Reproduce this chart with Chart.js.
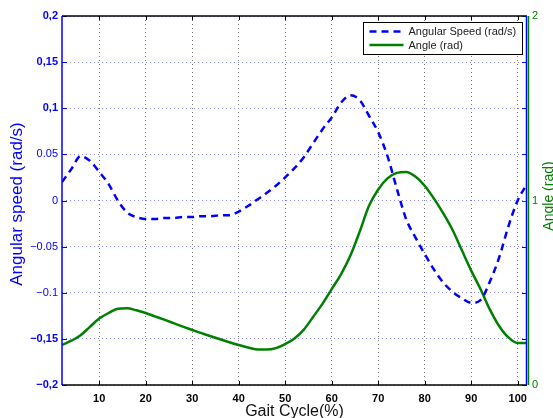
<!DOCTYPE html>
<html>
<head>
<meta charset="utf-8">
<script src="https://cdn.jsdelivr.net/npm/chart.js@4.4.0/dist/chart.umd.min.js"></script>
<style>
  html, body { margin: 0; padding: 0; background: #fff; }
</style>
</head>
<body>
<canvas id="gait" width="553" height="418"></canvas>
<script>
const gaitPct = [2, 4, 6, 8, 10, 12, 14, 16, 18, 20, 22, 24, 26, 28, 30, 32, 34, 36, 38, 40,
  42, 44, 46, 48, 50, 52, 54, 56, 58, 60, 62, 64, 66, 68, 70, 72, 74, 76, 78, 80,
  82, 84, 86, 88, 90, 92, 94, 96, 98, 100, 102];

const angularSpeed = [0.020, 0.034, 0.048, 0.043, 0.031, 0.018, 0.000, -0.013, -0.018, -0.020,
  -0.020, -0.019, -0.019, -0.018, -0.018, -0.017, -0.017, -0.016, -0.016, -0.012,
  -0.006, 0.001, 0.008, 0.016, 0.025, 0.035, 0.047, 0.062, 0.077, 0.090,
  0.106, 0.114, 0.109, 0.092, 0.074, 0.048, 0.013, -0.020, -0.040, -0.058,
  -0.075, -0.089, -0.099, -0.106, -0.111, -0.108, -0.088, -0.062, -0.028, 0.000, 0.018];

const angle = [0.217, 0.240, 0.270, 0.315, 0.360, 0.390, 0.413, 0.416, 0.405, 0.390,
  0.372, 0.354, 0.335, 0.316, 0.298, 0.281, 0.264, 0.248, 0.232, 0.217,
  0.203, 0.193, 0.192, 0.200, 0.222, 0.252, 0.300, 0.369, 0.440, 0.520,
  0.600, 0.700, 0.830, 0.970, 1.060, 1.120, 1.150, 1.155, 1.130, 1.080,
  1.010, 0.930, 0.840, 0.730, 0.620, 0.520, 0.410, 0.320, 0.258, 0.228, 0.228];

const xTicks = [10, 20, 30, 40, 50, 60, 70, 80, 90, 100];
const speedTicks = [-0.2, -0.15, -0.1, -0.05, 0, 0.05, 0.1, 0.15, 0.2];
const speedTickLabels = ['\u22120,2', '\u22120,15', '\u22120.1', '\u22120.05', '0', '0.05', '0,1', '0,15', '0,2'];
const angleTicks = [0, 1, 2];

const BLUE = '#0000ff';
const GREEN = '#008000';
const FONT = "'Liberation Sans', Arial, sans-serif";

function toPoints(ys) {
  return gaitPct.map((x, i) => ({ x: x, y: ys[i] }));
}

// matlab-like box, inward ticks, axis titles and the boxed legend
const frame = {
  id: 'frame',
  afterDraw(chart) {
    const { ctx, chartArea: a, scales } = chart;
    const seg = (x1, y1, x2, y2) => { ctx.beginPath(); ctx.moveTo(x1, y1); ctx.lineTo(x2, y2); ctx.stroke(); };
    ctx.save();
    ctx.lineWidth = 1;
    ctx.strokeStyle = '#000';
    xTicks.forEach(v => {
      const px = Math.round(scales.x.getPixelForValue(v)) + 0.5;
      seg(px, a.top, px, a.top + 4);
      seg(px, a.bottom, px, a.bottom - 4);
    });
    ctx.strokeStyle = BLUE;
    speedTicks.forEach(v => {
      const py = Math.round(scales.y.getPixelForValue(v)) + 0.5;
      seg(a.left, py, a.left + 5, py);
      seg(a.right, py, a.right - 5, py);
    });
    ctx.strokeStyle = GREEN;
    angleTicks.forEach(v => {
      const py = Math.round(scales.y2.getPixelForValue(v)) + 0.5;
      seg(a.right, py, a.right - 5, py);
    });
    // box
    ctx.lineWidth = 1.5;
    ctx.strokeStyle = '#000';
    seg(a.left, a.top, a.right, a.top);
    seg(a.left, a.bottom, a.right, a.bottom);
    ctx.strokeStyle = BLUE;
    seg(a.left, a.top, a.left, a.bottom);
    seg(a.right - 0.5, a.top, a.right - 0.5, a.bottom);
    ctx.strokeStyle = GREEN;
    seg(a.right + 1.5, a.top, a.right + 1.5, a.bottom);

    // axis titles
    ctx.textBaseline = 'alphabetic';
    ctx.textAlign = 'center';
    ctx.fillStyle = '#111';
    ctx.font = '16px ' + FONT;
    ctx.fillText('Gait Cycle(%)', (a.left + a.right) / 2, 416);
    ctx.save();
    ctx.translate(22, 204);
    ctx.rotate(-Math.PI / 2);
    ctx.fillStyle = BLUE;
    ctx.font = '17px ' + FONT;
    ctx.fillText('Angular speed (rad/s)', 0, 0);
    ctx.restore();
    ctx.save();
    ctx.translate(553, 196);
    ctx.rotate(-Math.PI / 2);
    ctx.fillStyle = GREEN;
    ctx.font = '14px ' + FONT;
    ctx.fillText('Angle (rad)', 0, 0);
    ctx.restore();

    // legend
    const lx = 363.5, ly = 22.5, lw = 159, lh = 32;
    ctx.fillStyle = '#fff';
    ctx.fillRect(lx, ly, lw, lh);
    ctx.lineWidth = 1;
    ctx.strokeStyle = '#000';
    ctx.strokeRect(lx, ly, lw, lh);
    ctx.font = '11px ' + FONT;
    ctx.textAlign = 'left';
    ctx.textBaseline = 'middle';
    chart.data.datasets.forEach((d, i) => {
      const yy = ly + 9 + i * 13.5;
      ctx.strokeStyle = d.borderColor;
      ctx.lineWidth = d.borderWidth;
      ctx.setLineDash(d.borderDash || []);
      seg(lx + 6, yy, lx + 40, yy);
      ctx.setLineDash([]);
      ctx.fillStyle = '#222';
      ctx.fillText(d.label, lx + 45, yy + 0.5);
    });
    ctx.restore();
  }
};

new Chart(document.getElementById('gait'), {
  type: 'line',
  data: {
    datasets: [{
      label: 'Angular Speed (rad/s)',
      data: toPoints(angularSpeed),
      yAxisID: 'y',
      borderColor: BLUE,
      borderWidth: 2.5,
      borderDash: [7, 5],
      pointRadius: 0,
      cubicInterpolationMode: 'monotone',
      fill: false
    }, {
      label: 'Angle (rad)',
      data: toPoints(angle),
      yAxisID: 'y2',
      borderColor: GREEN,
      borderWidth: 2.5,
      pointRadius: 0,
      cubicInterpolationMode: 'monotone',
      fill: false
    }]
  },
  options: {
    responsive: false,
    animation: false,
    devicePixelRatio: 1,
    layout: { padding: { top: 16, left: 0, right: 0, bottom: 0 } },
    plugins: { legend: { display: false }, tooltip: { enabled: false } },
    scales: {
      x: {
        type: 'linear',
        min: 2,
        max: 102,
        afterBuildTicks: s => { s.ticks = xTicks.map(v => ({ value: v })); },
        afterFit: s => { s.height = 33; },
        grid: { color: '#777', drawTicks: false },
        border: { display: false, dash: [1, 3] },
        ticks: { color: '#000', padding: 7, font: { family: FONT, size: 11, weight: 'bold' } }
      },
      y: {
        position: 'left',
        min: -0.2,
        max: 0.2,
        afterBuildTicks: s => { s.ticks = speedTicks.map(v => ({ value: v })); },
        afterFit: s => { s.width = 62; },
        grid: { color: '#8f8fff', drawTicks: false },
        border: { display: false, dash: [1, 3] },
        ticks: {
          color: BLUE,
          padding: 4,
          callback: (v, i) => speedTickLabels[i],
          font: ctx => ({ family: FONT, size: 11, weight: (speedTickLabels[ctx.index] || '').includes(',') ? 'bold' : 'normal' })
        }
      },
      y2: {
        position: 'right',
        min: 0,
        max: 2,
        afterBuildTicks: s => { s.ticks = angleTicks.map(v => ({ value: v })); },
        afterFit: s => { s.width = 26; },
        grid: { display: false, drawTicks: false },
        border: { display: false },
        ticks: { color: GREEN, padding: 5, font: { family: FONT, size: 11 } }
      }
    }
  },
  plugins: [frame]
});
</script>
</body>
</html>
